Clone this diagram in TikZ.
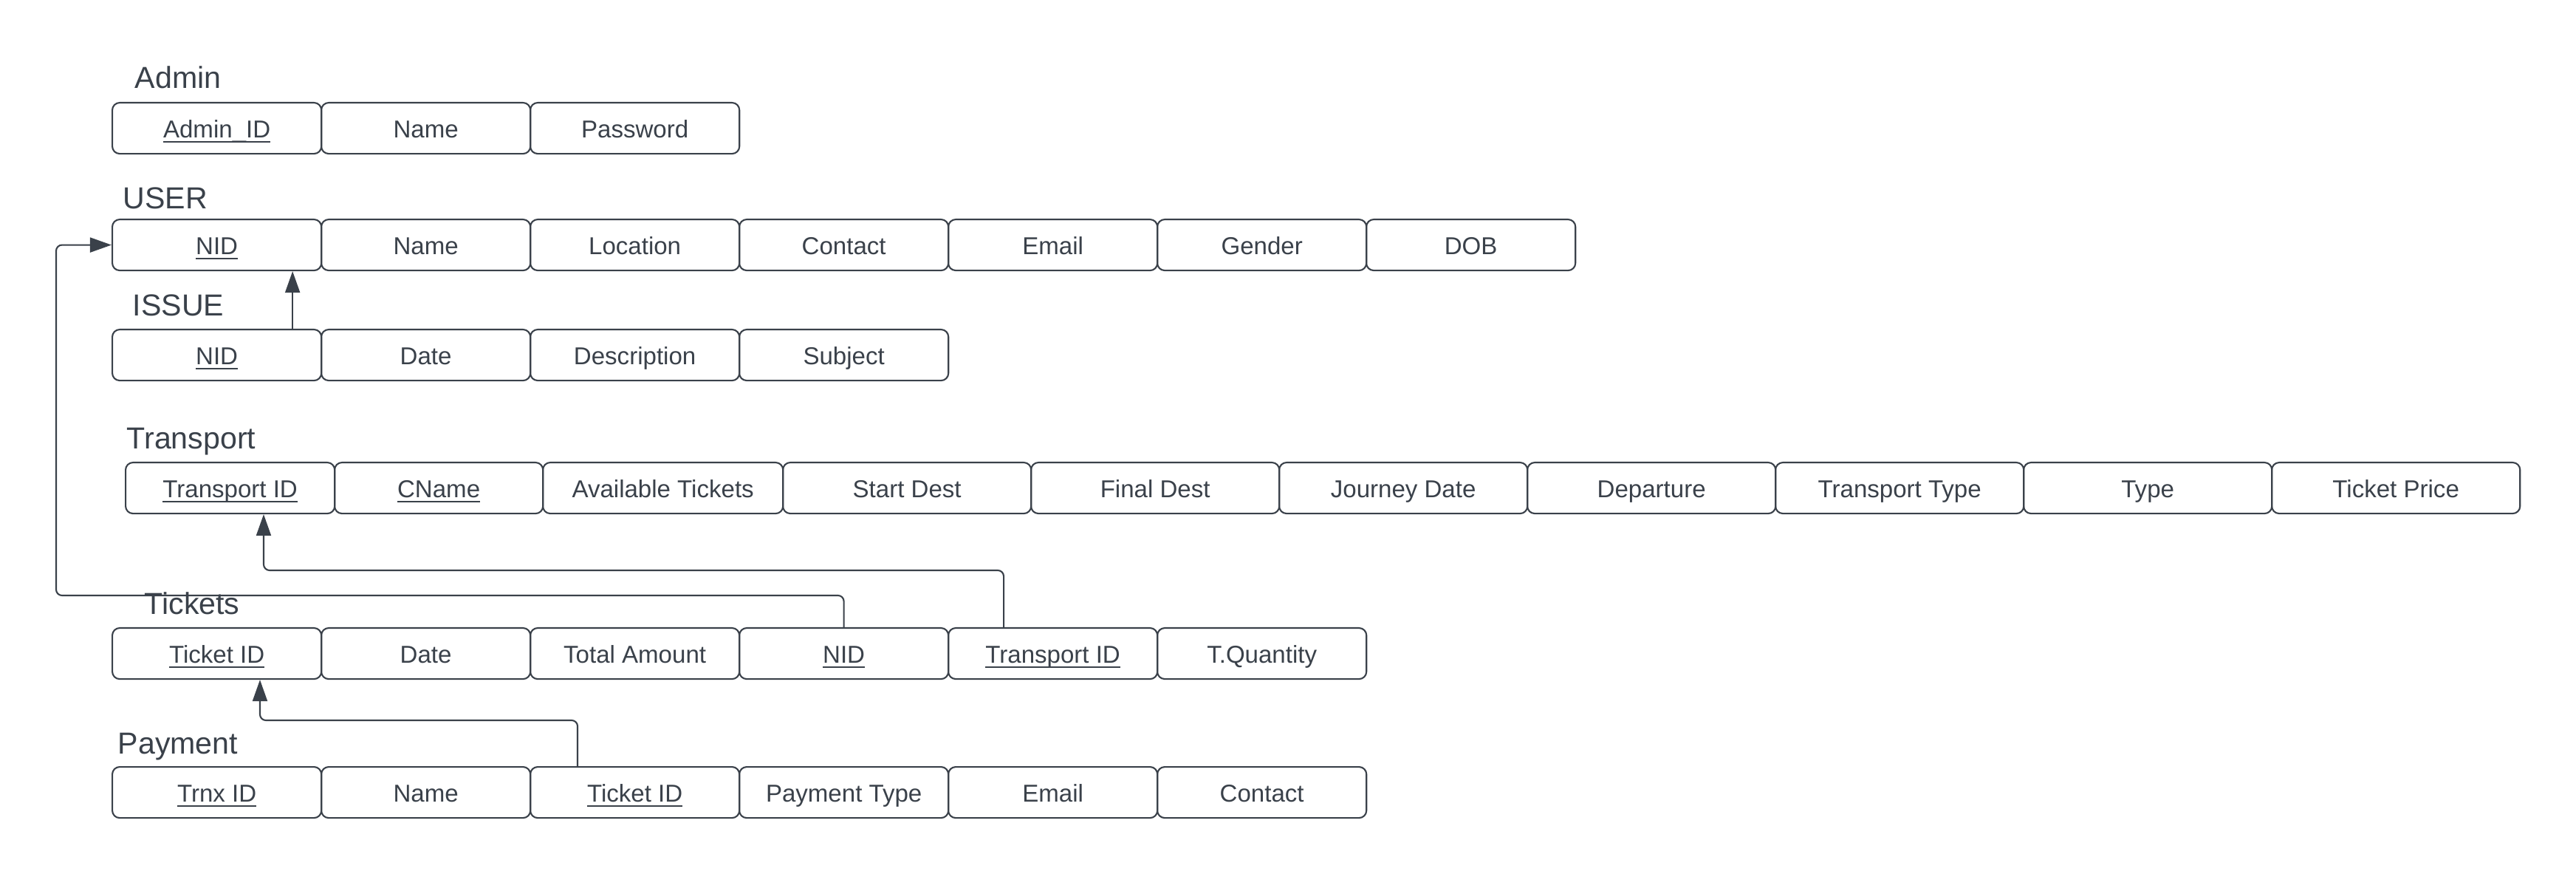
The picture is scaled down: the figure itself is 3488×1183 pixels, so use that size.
\documentclass[tikz,border=0pt]{standalone}
\usepackage{fontspec}
\setmainfont{Liberation Sans}
\usetikzlibrary{arrows.meta,calc}
\definecolor{ink}{RGB}{58,65,74}
\newcommand\keyu[1]{\underline{\smash{#1}}}
\begin{document}
\begin{tikzpicture}[x=0.01cm,y=-0.01cm]
\tikzset{
 cell/.style={draw=ink, line width=0.6pt, rounded corners=0.1cm, anchor=north west,
   minimum height=0.69cm, inner sep=0pt, text=ink,
   font=\fontsize{9.4}{11}\selectfont, text height=7.6pt, text depth=0pt},
 cw/.style={cell, minimum width=#1},
 lbl/.style={anchor=base west, inner sep=0pt, text=ink, font=\fontsize{11.7}{14}\selectfont},
 arr/.style={draw=ink, line width=0.6pt, rounded corners=0.08cm,
   -{Triangle[length=0.29cm,width=0.2cm]}}
}
\useasboundingbox (0,0) rectangle (3488,1183);
% Admin
\node[lbl] (lAdmin) at (182,120) {Admin};
\node[cw=2.83cm] (ad1) at (151,138) {\keyu{Admin\_ID}};
\node[cw=2.83cm] (ad2) at (434,138) {Name};
\node[cw=2.83cm] (ad3) at (717,138) {Password};
% USER
\node[lbl] (lUser) at (166,283) {USER};
\node[cw=2.83cm] (usr1) at (151,296) {\keyu{NID}};
\node[cw=2.83cm] (usr2) at (434,296) {Name};
\node[cw=2.83cm] (usr3) at (717,296) {Location};
\node[cw=2.83cm] (usr4) at (1000,296) {Contact};
\node[cw=2.83cm] (usr5) at (1283,296) {Email};
\node[cw=2.83cm] (usr6) at (1566,296) {Gender};
\node[cw=2.83cm] (usr7) at (1849,296) {DOB};
% ISSUE
\node[lbl] (lIssue) at (179,428) {ISSUE};
\node[cw=2.83cm] (iss1) at (151,445) {\keyu{NID}};
\node[cw=2.83cm] (iss2) at (434,445) {Date};
\node[cw=2.83cm] (iss3) at (717,445) {Description};
\node[cw=2.83cm] (iss4) at (1000,445) {Subject};
% Transport
\node[lbl] (lTransport) at (171,608) {Transport};
\node[cw=2.83cm] (tr1) at (169,625) {\keyu{Transport ID}};
\node[cw=2.82cm] (tr2) at (452,625) {\keyu{CName}};
\node[cw=3.25cm] (tr3) at (734,625) {Available Tickets};
\node[cw=3.36cm] (tr4) at (1059,625) {Start Dest};
\node[cw=3.36cm] (tr5) at (1395,625) {Final Dest};
\node[cw=3.36cm] (tr6) at (1731,625) {Journey Date};
\node[cw=3.36cm] (tr7) at (2067,625) {Departure};
\node[cw=3.36cm] (tr8) at (2403,625) {Transport Type};
\node[cw=3.36cm] (tr9) at (2739,625) {Type};
\node[cw=3.36cm] (tr10) at (3075,625) {Ticket Price};
% Tickets
\node[lbl] (lTickets) at (195,832) {Tickets};
\node[cw=2.83cm] (tk1) at (151,849) {\keyu{Ticket ID}};
\node[cw=2.83cm] (tk2) at (434,849) {Date};
\node[cw=2.83cm] (tk3) at (717,849) {Total Amount};
\node[cw=2.83cm] (tk4) at (1000,849) {\keyu{NID}};
\node[cw=2.83cm] (tk5) at (1283,849) {\keyu{Transport ID}};
\node[cw=2.83cm] (tk6) at (1566,849) {T.Quantity};
% Payment
\node[lbl] (lPayment) at (159,1021) {Payment};
\node[cw=2.83cm] (py1) at (151,1037) {\keyu{Trnx ID}};
\node[cw=2.83cm] (py2) at (434,1037) {Name};
\node[cw=2.83cm] (py3) at (717,1037) {\keyu{Ticket ID}};
\node[cw=2.83cm] (py4) at (1000,1037) {Payment Type};
\node[cw=2.83cm] (py5) at (1283,1037) {Email};
\node[cw=2.83cm] (py6) at (1566,1037) {Contact};
% connectors
\coordinate (k1) at (76,806);
\coordinate (k2) at (357,772);
\coordinate (k3) at (352,975);
\draw[arr] ([xshift=2.45cm]iss1.north west) -- ([xshift=2.45cm]usr1.south west);
\draw[arr] (tk4.north) |- (k1) |- (usr1.west);
\draw[arr] ([xshift=0.76cm]tk5.north west) |- (k2) -- (k2 |- tr1.south);
\draw[arr] ([xshift=0.65cm]py3.north west) |- (k3) -- (k3 |- tk1.south);
\end{tikzpicture}
\end{document}
